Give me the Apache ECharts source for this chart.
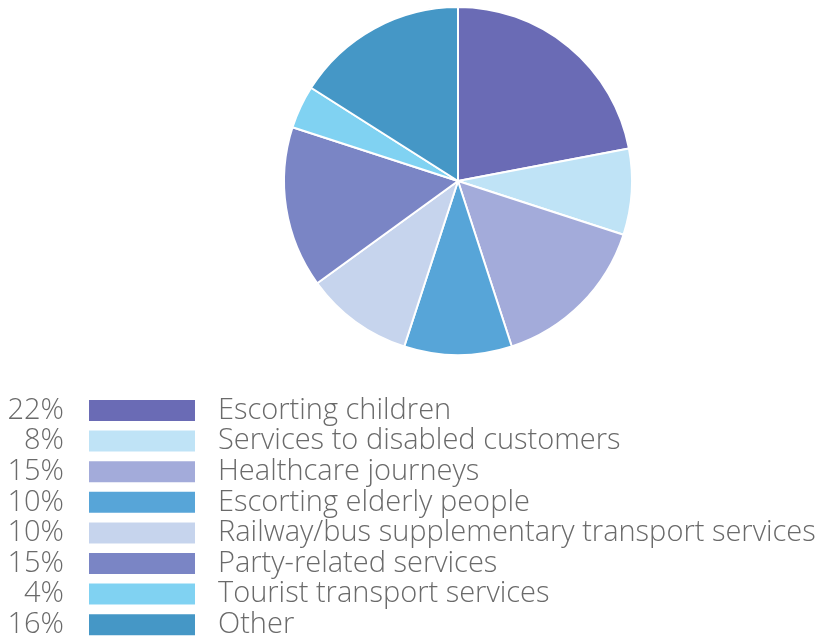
<!DOCTYPE html>
<html>
<head>
<meta charset="utf-8">
<script src="https://cdn.jsdelivr.net/npm/echarts@6/dist/echarts.min.js"></script>
<style>
  html, body { margin: 0; padding: 0; background: #ffffff; }
  #chart { width: 828px; height: 638px; }
</style>
</head>
<body>
<div id="chart"></div>
<script>
// Shares of journeys by purpose (percent)
const categories = [
  'Escorting children',
  'Services to disabled customers',
  'Healthcare journeys',
  'Escorting elderly people',
  'Railway/bus supplementary transport services',
  'Party-related services',
  'Tourist transport services',
  'Other'
];
const shares = [22, 8, 15, 10, 10, 15, 4, 16];
const colors = ['#6A6BB5', '#BFE3F6', '#A3ABDA', '#57A5D8', '#C6D4ED', '#7A85C5', '#80D2F2', '#4597C6'];

const labelFont = '"Open Sans"';
const fontSize = 29;
const textColor = '#6a6a6a';

// Legend geometry: swatch height and row pitch
const legendTop = 399;
const rowH = 23;
const rowPitch = 30.6;

const chart = echarts.init(document.getElementById('chart'), null, { renderer: 'canvas' });

const pieData = categories.map((name, i) => ({
  name: name,
  value: shares[i],
  itemStyle: { color: colors[i] }
}));

// Percentage column, right-aligned to the left of the legend swatches
const pctTexts = categories.map((name, i) => ({
  type: 'text',
  x: 64,
  y: legendTop + i * rowPitch + rowH / 2,
  style: {
    text: shares[i] + '%',
    font: '300 ' + fontSize + 'px ' + labelFont,
    fill: textColor,
    align: 'right',
    verticalAlign: 'middle'
  }
}));

chart.setOption({
  backgroundColor: '#ffffff',
  animation: false,
  legend: {
    orient: 'vertical',
    left: 87,
    // the label line box is taller than the swatch, so the rows are laid out by text height
    top: legendTop - (fontSize - rowH) / 2,
    height: 300,
    padding: 0,
    icon: 'rect',
    itemWidth: 108,
    itemHeight: rowH,
    itemGap: rowPitch - fontSize,
    selectedMode: false,
    data: categories,
    textStyle: {
      fontFamily: labelFont,
      fontWeight: 300,
      fontSize: fontSize,
      color: textColor,
      padding: [0, 0, 0, 17]
    }
  },
  graphic: pctTexts,
  series: [{
    type: 'pie',
    center: [458, 181],
    radius: [0, 174],
    startAngle: 90,
    clockwise: true,
    label: { show: false },
    labelLine: { show: false },
    emphasis: { disabled: true },
    itemStyle: { borderColor: '#ffffff', borderWidth: 2 },
    data: pieData
  }]
});
</script>
</body>
</html>
